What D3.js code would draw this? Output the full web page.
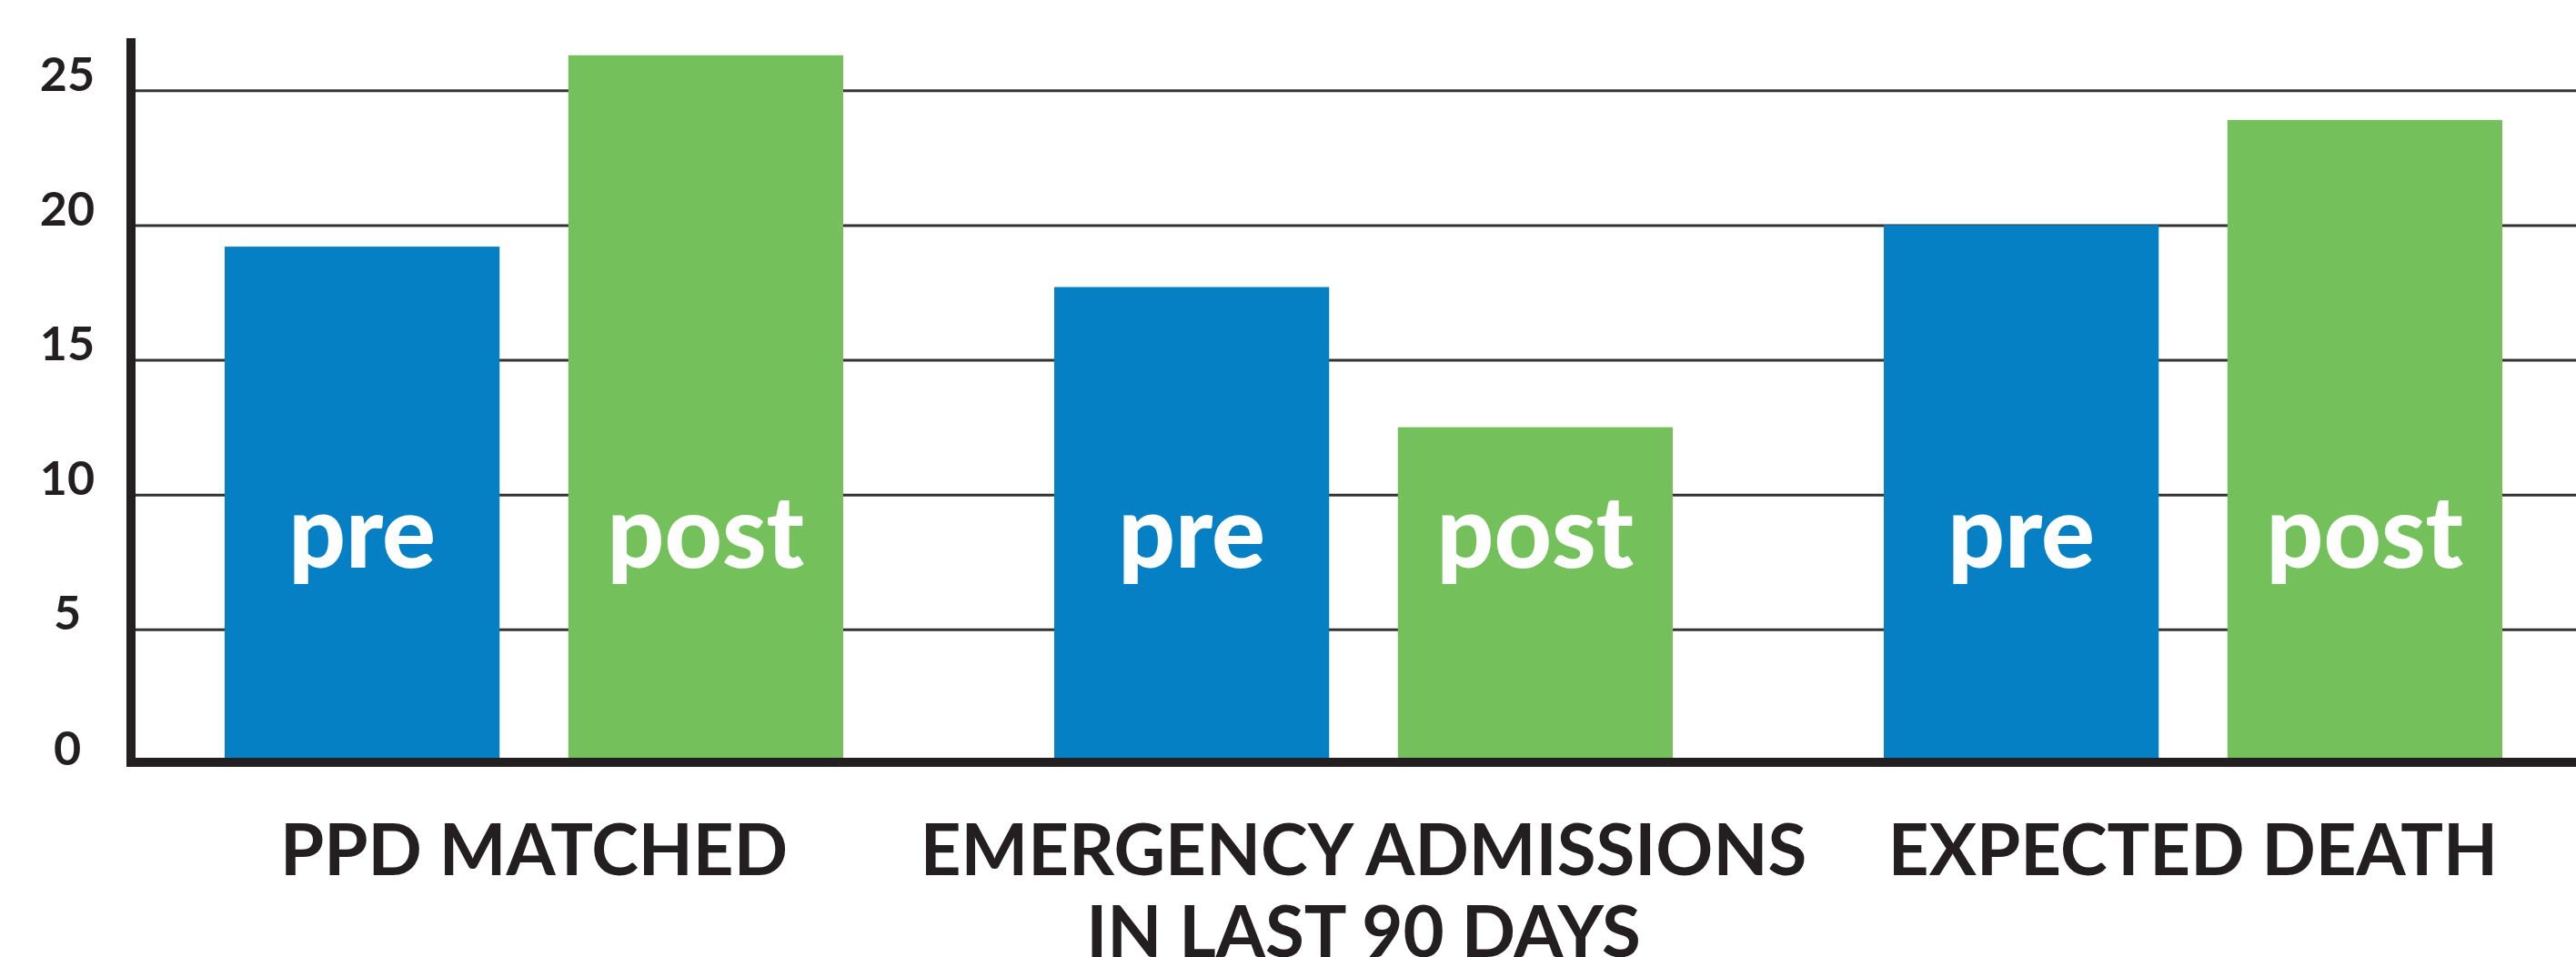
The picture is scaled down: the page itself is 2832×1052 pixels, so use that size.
<!DOCTYPE html>
<html>
<head>
<meta charset="utf-8">
<script src="https://cdn.jsdelivr.net/npm/d3@7"></script>
<style>
  body { margin: 0; background: #fff; }
  text { font-family: Lato, "Open Sans", sans-serif; }
</style>
</head>
<body>
<script>
// Data
var categories = [["PPD MATCHED"], ["EMERGENCY ADMISSIONS", "IN LAST 90 DAYS"], ["EXPECTED DEATH"]];
var series = ["pre", "post"];
var preValues = [19.2, 17.7, 20.0];
var postValues = [26.3, 12.5, 23.9];
var yTicks = [0, 5, 10, 15, 20, 25];

var width = 2832, height = 1052;
var colors = { pre: "#0580c4", post: "#74c15b" };
var ink = "#231f20";

var svg = d3.select("body").append("svg")
    .attr("width", width)
    .attr("height", height);

// Scales
var x0 = d3.scaleBand()
    .domain(d3.range(categories.length))
    .range([247, 2751])
    .paddingInner(0.2544)
    .paddingOuter(0);

var x1 = d3.scaleBand()
    .domain(series)
    .range([0, x0.bandwidth()])
    .paddingInner(0.2)
    .paddingOuter(0);

var y = d3.scaleLinear().domain([0, 27]).range([840, 40]);

var axisX = 149;

// Gridlines + tick labels
var yAxis = svg.append("g")
    .attr("transform", "translate(" + axisX + ",0)")
    .call(d3.axisLeft(y).tickValues(yTicks).tickSize(-(width - axisX)).tickFormat(d3.format("d")));

yAxis.select(".domain").remove();
yAxis.selectAll(".tick line")
    .attr("stroke", "#333")
    .attr("stroke-width", 3);
yAxis.selectAll(".tick text")
    .attr("x", -75)
    .attr("dy", 0)
    .attr("text-anchor", "middle")
    .attr("fill", ink)
    .style("font-size", "52px")
    .style("font-weight", 700);

// Bars
var rows = categories.map(function (c, i) {
    return { i: i, values: [{ key: "pre", value: preValues[i] }, { key: "post", value: postValues[i] }] };
});

var group = svg.selectAll("g.group")
    .data(rows)
    .enter().append("g")
    .attr("class", "group")
    .attr("transform", function (d) { return "translate(" + x0(d.i) + ",0)"; });

group.selectAll("rect")
    .data(function (d) { return d.values; })
    .enter().append("rect")
    .attr("x", function (d) { return x1(d.key); })
    .attr("y", function (d) { return y(d.value); })
    .attr("width", x1.bandwidth())
    .attr("height", function (d) { return y(0) - y(d.value); })
    .attr("fill", function (d) { return colors[d.key]; });

group.selectAll("text.barlabel")
    .data(function (d) { return d.values; })
    .enter().append("text")
    .attr("class", "barlabel")
    .attr("x", function (d) { return x1(d.key) + x1.bandwidth() / 2; })
    .attr("y", 624)
    .attr("text-anchor", "middle")
    .attr("fill", "#fff")
    .style("font-size", "110px")
    .style("font-weight", 900)
    .text(function (d) { return d.key; });

// Axis lines
svg.append("line")
    .attr("x1", axisX - 5).attr("x2", axisX - 5)
    .attr("y1", 42).attr("y2", 843)
    .attr("stroke", ink).attr("stroke-width", 10);

svg.append("line")
    .attr("x1", axisX - 10).attr("x2", width)
    .attr("y1", 838).attr("y2", 838)
    .attr("stroke", ink).attr("stroke-width", 10);

// Category labels (second line runs off the bottom, as in the original)
var catText = svg.selectAll("text.cat")
    .data(categories)
    .enter().append("text")
    .attr("class", "cat")
    .attr("text-anchor", "middle")
    .attr("fill", ink)
    .style("font-size", "78px")
    .style("font-weight", 700);

catText.selectAll("tspan")
    .data(function (d, i) { return d.map(function (line) { return { line: line, i: i }; }); })
    .enter().append("tspan")
    .attr("x", function (d) { return x0(d.i) + x0.bandwidth() / 2; })
    .attr("y", function (d, j) { return 962 + j * 90; })
    .text(function (d) { return d.line; });
</script>
</body>
</html>
